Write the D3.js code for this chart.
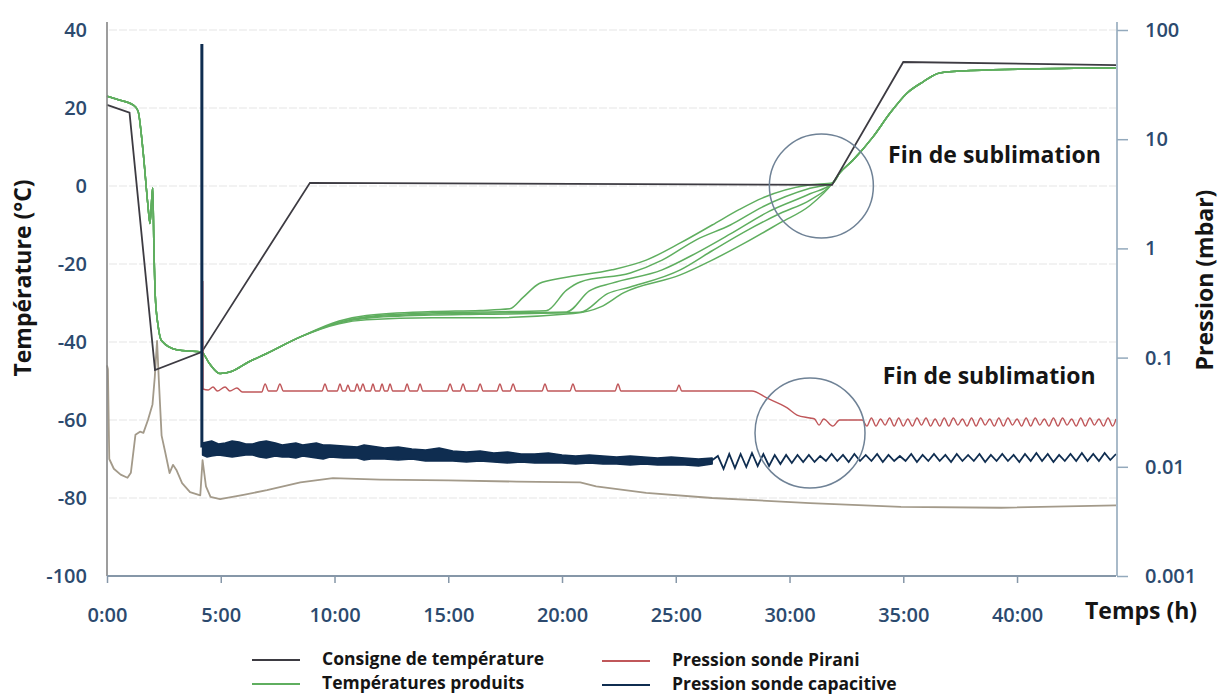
<!DOCTYPE html>
<html><head><meta charset="utf-8">
<script src="https://cdn.jsdelivr.net/npm/d3@7"></script>
<style>
body{margin:0;background:#fff}
svg text{font-family:"Open Sans",sans-serif}
</style>
</head><body>
<svg id="c" width="1224" height="695"></svg>
<script>
// ---------- DATA ----------
const tempTicks = [-100,-80,-60,-40,-20,0,20,40];
const pressTicks = [0.001,0.01,0.1,1,10,100];
const pressTickLabels = ["0.001","0.01","0.1","1","10","100"];
const timeTicks = [0,5,10,15,20,25,30,35,40];

// Consigne de température (°C)
const consigneHeures = [0,0.99,2.11,4.16,8.92,31.87,35.0,44.35];
const consigneTemp   = [20.8,18.8,-47.2,-42.6,0.8,0.3,31.8,31.0];

// Températures produits: shared start, per-probe middle, shared end
const produitsDebutHeures = [0,0.5,1.14,1.36,1.58,1.80,1.89,1.97,2.01,2.06,2.12,2.25,2.4,3.06,4.16,4.5,4.97,5.5,6.2,7.0,8.5];
const produitsDebutTemp   = [23.0,22.1,20.8,19.3,9.2,-5,-9.6,-3,-0.5,-15,-28,-36,-39.7,-42.0,-42.6,-45.5,-48.1,-47.5,-45.2,-43.0,-38.7];
const produit1Heures = [10.2,11.4,14.3,16.4,17.7,18.3,19.0,20.0,22.2,23.7,25.2,26.6,27.8,28.8,30.9];
const produit1Temp   = [-34.6,-33.2,-32.2,-31.9,-31.5,-28.5,-25.0,-23.6,-21.5,-19.0,-14.6,-10.0,-6.0,-3.1,0.3];
const produit2Heures = [10.2,11.4,14.3,16.4,19.3,20.2,20.8,23.0,24.4,25.9,27.4,28.8,30.9];
const produit2Temp   = [-34.9,-33.5,-32.5,-32.3,-32.0,-26.7,-24.6,-22.3,-19.0,-13.8,-10.0,-5.4,-0.6];
const produit3Heures = [10.2,11.4,14.3,16.4,20.2,21.2,22.2,24.4,25.9,27.4,29.1,30.9];
const produit3Temp   = [-35.0,-33.7,-32.8,-32.6,-32.3,-26.9,-24.9,-21.5,-17.2,-12.3,-6.5,-2.0];
const produit4Heures = [10.2,11.4,14.3,16.4,20.8,22.0,23.0,25.2,26.6,28.1,29.6,30.9];
const produit4Temp   = [-35.1,-33.9,-33.1,-32.9,-32.4,-27.6,-25.9,-21.5,-16.6,-11.5,-7.0,-3.6];
const produit5Heures = [10.2,11.4,14.3,16.4,20.5,21.7,22.7,25.2,26.6,28.1,29.6,30.9];
const produit5Temp   = [-35.3,-34.3,-33.8,-33.8,-32.7,-31.0,-27.4,-22.8,-19.0,-14.4,-9.4,-5.0];
const produitsFinHeures = [31.9,32.2,32.8,33.67,34.42,35.16,35.87,36.6,38.0,44.35];
const produitsFinTemp   = [0.8,3.3,6.7,12.6,18.7,23.8,26.7,29.0,29.6,30.3];

// Température condenseur (unlabelled taupe curve)
const condHeures = [0,0.04,0.10,0.30,0.60,0.90,1.05,1.25,1.45,1.60,1.80,2.00,2.10,2.20,2.28,2.40,2.55,2.75,2.90,3.05,3.30,3.65,4.10,4.20,4.35,4.55,4.97,6.0,7.03,8.5,9.93,12.0,15.0,18.0,20.8,21.5,23.7,26.6,30.9,34.9,39.3,44.35];
const condTemp   = [-46,-47,-70,-72.5,-74.0,-74.8,-73.5,-63.8,-63.0,-63.3,-60.0,-56.0,-49.0,-39.7,-50.0,-64.0,-68.0,-73.6,-71.5,-72.8,-76.2,-78.5,-79.3,-70.3,-77.0,-79.7,-80.3,-79.2,-78.0,-76.0,-74.9,-75.3,-75.5,-75.8,-76.0,-77.0,-78.7,-80.0,-81.3,-82.3,-82.5,-81.9];

// Pression sonde Pirani (mbar)
const piraniHeures = [4.21,4.22,4.45,4.66,4.85,5.19,5.40,5.71,5.95,6.80,6.95,7.10,7.45,7.60,7.75,9.45,9.58,9.71,10.12,10.24,10.36,10.48,10.59,10.70,10.88,10.99,11.12,11.25,11.37,11.58,11.69,11.80,11.98,12.09,12.20,12.33,12.44,12.56,13.07,13.19,13.31,13.64,13.76,13.88,14.95,15.08,15.21,15.52,15.65,15.78,16.27,16.40,16.53,17.14,17.27,17.40,17.72,17.85,17.98,19.12,19.25,19.38,20.35,20.48,20.61,22.33,22.46,22.59,25.02,25.14,25.26,28.35,29.0,29.9,30.33,30.9,31.1,31.3,31.5,31.9,32.2,33.2,
  33.4,33.6,33.8,34.0,34.2,34.4,34.6,34.8,35.0,35.2,35.4,35.6,35.8,36.0,36.2,36.4,36.6,36.8,37.0,37.2,37.4,37.6,37.8,38.0,38.2,38.4,38.6,38.8,39.0,39.2,39.4,39.6,39.8,40.0,40.2,40.4,40.6,40.8,41.0,41.2,41.4,41.6,41.8,42.0,42.2,42.4,42.6,42.8,43.0,43.2,43.4,43.6,43.8,44.0,44.2,44.35];
const piraniMbar = [0.503,0.0516,0.0505,0.0538,0.0494,0.0538,0.0494,0.0527,0.0484,0.0484,0.0573,0.0494,0.0494,0.0573,0.0494,0.0494,0.0573,0.0494,0.0494,0.0573,0.0494,0.0494,0.0561,0.0494,0.0494,0.0573,0.0494,0.0573,0.0494,0.0494,0.0573,0.0494,0.0494,0.0573,0.0494,0.0494,0.0573,0.0494,0.0494,0.0573,0.0494,0.0494,0.0573,0.0494,0.0494,0.0573,0.0494,0.0494,0.0573,0.0494,0.0494,0.0573,0.0494,0.0494,0.0573,0.0494,0.0494,0.0573,0.0494,0.0494,0.0573,0.0494,0.0494,0.0573,0.0494,0.0494,0.0573,0.0494,0.0494,0.0561,0.0494,0.0494,0.0427,0.0346,0.0298,0.0280,0.0274,0.0241,0.0274,0.0236,0.0268,0.0268,
  0.0236,0.0280,0.0236,0.0274,0.0241,0.0280,0.0236,0.0280,0.0236,0.0274,0.0236,0.0280,0.0241,0.0280,0.0236,0.0274,0.0236,0.0280,0.0236,0.0280,0.0241,0.0274,0.0236,0.0280,0.0236,0.0280,0.0241,0.0274,0.0236,0.0280,0.0236,0.0280,0.0241,0.0274,0.0236,0.0280,0.0236,0.0280,0.0241,0.0274,0.0236,0.0280,0.0236,0.0280,0.0241,0.0274,0.0236,0.0280,0.0236,0.0280,0.0241,0.0274,0.0236,0.0280,0.0236,0.0274];

// Pression sonde capacitive (mbar): initial spike, noisy band (upper/lower envelope), then oscillation
const capPicHeures = [4.17,4.17];
const capPicMbar = [74.4,0.0150];
const capBandeHeures = [4.2,4.4,4.6,4.9,5.2,5.5,5.8,6.1,6.4,6.7,7.0,7.4,7.7,8.0,8.3,8.6,9.2,9.5,9.8,10.4,11.0,11.3,11.6,12.2,12.8,13.4,14.0,14.6,15.2,15.8,16.4,17.0,17.6,18.2,18.8,19.4,20.0,20.6,21.2,21.8,22.4,23.0,23.6,24.2,24.8,25.4,26.0,26.6];
const capBandeHaut = [0.01651,0.01687,0.01722,0.01617,0.01651,0.01722,0.01687,0.01617,0.01617,0.01687,0.01722,0.01651,0.01584,0.01617,0.01651,0.01584,0.01651,0.01584,0.01584,0.01551,0.01518,0.01584,0.01551,0.01487,0.01518,0.01456,0.01425,0.01487,0.01396,0.01367,0.01396,0.01338,0.01367,0.01310,0.01310,0.01338,0.01283,0.01256,0.01283,0.01256,0.01230,0.01256,0.01230,0.01204,0.01230,0.01204,0.01179,0.01204];
const capBandeBas  = [0.01283,0.01230,0.01256,0.01283,0.01256,0.01230,0.01256,0.01283,0.01283,0.01230,0.01204,0.01256,0.01230,0.01230,0.01204,0.01256,0.01204,0.01179,0.01230,0.01204,0.01204,0.01154,0.01179,0.01179,0.01154,0.01179,0.01130,0.01130,0.01130,0.01107,0.01130,0.01107,0.01083,0.01107,0.01083,0.01083,0.01083,0.01061,0.01083,0.01061,0.01061,0.01038,0.01061,0.01038,0.01038,0.01038,0.01017,0.01061];
const capOscHeures = [26.60,26.85,27.10,27.35,27.60,27.85,28.10,28.35,28.60,28.85,29.10,29.35,29.60,29.85,30.10,30.35,30.60,30.85,31.10,31.35,31.60,31.85,32.10,32.35,32.60,32.85,33.10,33.35,33.60,33.85,34.10,34.35,34.60,34.85,35.10,35.35,35.60,35.85,36.10,36.35,36.60,36.85,37.10,37.35,37.60,37.85,38.10,38.35,38.60,38.85,39.10,39.35,39.60,39.85,40.10,40.35,40.60,40.85,41.10,41.35,41.60,41.85,42.10,42.35,42.60,42.85,43.10,43.35,43.60,43.85,44.10,44.35];
const capOscMbar = [0.01150,0.01256,0.00955,0.01310,0.00975,0.01310,0.00996,0.01338,0.01017,0.01310,0.01017,0.01283,0.01061,0.01283,0.01083,0.01283,0.01107,0.01283,0.01107,0.01256,0.01130,0.01310,0.01130,0.01283,0.01107,0.01310,0.01130,0.01283,0.01130,0.01310,0.01107,0.01283,0.01130,0.01256,0.01130,0.01310,0.01107,0.01283,0.01130,0.01310,0.01130,0.01283,0.01107,0.01310,0.01130,0.01283,0.01130,0.01310,0.01107,0.01283,0.01130,0.01310,0.01130,0.01283,0.01107,0.01310,0.01130,0.01338,0.01130,0.01310,0.01107,0.01283,0.01130,0.01310,0.01130,0.01338,0.01130,0.01310,0.01130,0.01338,0.01154,0.01310];

const legendLabels = ["Consigne de température","Températures produits","Pression sonde Pirani","Pression sonde capacitive"];
const annotationText = "Fin de sublimation";

// ---------- STYLE ----------
const C = {consigne:"#3d3b42", produit:"#5fae5f", cond:"#a39a8a", pirani:"#c0575a", cap:"#0f2d50",
           tick:"#2c4a6e", grid:"#e6e6e6", title:"#151515"};

// ---------- CHART ----------
const svg = d3.select("#c");
const x  = d3.scaleLinear().domain([0,44.35]).range([107,1116]);
const yT = d3.scaleLinear().domain([-100,40]).range([576,30]);
const yP = d3.scaleLog().domain([0.001,100]).range([576,30]);

const zip = (a,b)=>a.map((v,i)=>[v,b[i]]);

// gridlines
svg.append("g").selectAll("line").data(tempTicks.filter(t=>t>-100)).join("line")
  .attr("x1",x(0)+2).attr("x2",x(44.35)).attr("y1",d=>yT(d)).attr("y2",d=>yT(d))
  .attr("stroke",C.grid).attr("stroke-width",1.2).attr("stroke-dasharray","8,2");

const lineT = d3.line().x(d=>x(d[0])).y(d=>yT(d[1]));
const lineTs = d3.line().x(d=>x(d[0])).y(d=>yT(d[1])).curve(d3.curveMonotoneX);
const lineP = d3.line().x(d=>x(d[0])).y(d=>yP(d[1]));
const linePs = d3.line().x(d=>x(d[0])).y(d=>yP(d[1])).curve(d3.curveMonotoneX);

// condenser
svg.append("path").datum(zip(condHeures,condTemp)).attr("d",lineT)
  .attr("fill","none").attr("stroke",C.cond).attr("stroke-width",1.8).attr("stroke-linejoin","round");

// product temperatures
const debut = zip(produitsDebutHeures,produitsDebutTemp);
const fin = zip(produitsFinHeures,produitsFinTemp);
const sondes = [[produit1Heures,produit1Temp],[produit2Heures,produit2Temp],[produit3Heures,produit3Temp],[produit4Heures,produit4Temp],[produit5Heures,produit5Temp]];
sondes.forEach(([h,t])=>{
  svg.append("path").datum(debut.concat(zip(h,t),fin)).attr("d",lineTs)
    .attr("fill","none").attr("stroke",C.produit).attr("stroke-width",1.5);
});

// consigne
svg.append("path").datum(zip(consigneHeures,consigneTemp)).attr("d",lineT)
  .attr("fill","none").attr("stroke",C.consigne).attr("stroke-width",1.8);

// pirani
svg.append("path").datum(zip(piraniHeures,piraniMbar)).attr("d",linePs)
  .attr("fill","none").attr("stroke",C.pirani).attr("stroke-width",1.4);

// capacitive
svg.append("path").datum(zip(capPicHeures,capPicMbar)).attr("d",lineP)
  .attr("fill","none").attr("stroke",C.cap).attr("stroke-width",3);
const band = capBandeHeures.map((h,i)=>({h,hi:capBandeHaut[i],lo:capBandeBas[i]}));
svg.append("path").datum(band)
  .attr("d",d3.area().x(d=>x(d.h)).y0(d=>yP(d.lo)).y1(d=>yP(d.hi)))
  .attr("fill",C.cap).attr("stroke",C.cap).attr("stroke-width",1.5).attr("stroke-linejoin","round");
svg.append("path").datum(zip(capOscHeures,capOscMbar)).attr("d",lineP)
  .attr("fill","none").attr("stroke",C.cap).attr("stroke-width",1.8);

// axes
const gL = svg.append("g").attr("transform",`translate(${x(0)},0)`)
  .call(d3.axisLeft(yT).tickValues(tempTicks).tickSize(0).tickPadding(20).tickFormat(d=>String(d)));
gL.select(".domain").attr("stroke","#858585").attr("stroke-width",1.6).attr("d","M0,22V576");
gL.selectAll("text").attr("font-size",20).attr("font-weight",600).attr("fill",C.tick);

const gB = svg.append("g").attr("transform",`translate(0,${yT(-100)})`)
  .call(d3.axisBottom(x).tickValues(timeTicks).tickSize(7).tickPadding(25).tickFormat(d=>d+":00"));
gB.select(".domain").attr("stroke","#8697a8").attr("stroke-width",2).attr("d",`M${x(0)},0H${x(44.35)}`);
gB.selectAll(".tick line").attr("stroke","#8697a8").attr("stroke-width",1.5);
gB.selectAll("text").attr("font-size",20).attr("font-weight",600).attr("fill",C.tick);

const gR = svg.append("g").attr("transform",`translate(${x(44.35)+1},0)`)
  .call(d3.axisRight(yP).tickValues(pressTicks).tickSize(11).tickPadding(17).tickFormat((d,i)=>pressTickLabels[i]));
gR.select(".domain").attr("stroke","#93a9bc").attr("stroke-width",1.6).attr("d","M0,22V576");
gR.selectAll(".tick line").attr("stroke","#93a9bc").attr("stroke-width",1.5);
gR.selectAll("text").attr("font-size",20).attr("font-weight",600).attr("fill",C.tick);

// axis titles
svg.append("text").attr("transform","translate(31,278) rotate(-90)").attr("text-anchor","middle")
  .attr("font-size",23).attr("font-weight",700).attr("fill",C.title).text("Température (°C)");
svg.append("text").attr("transform","translate(1213,280) rotate(-90)").attr("text-anchor","middle")
  .attr("font-size",23).attr("font-weight",700).attr("fill",C.title).text("Pression (mbar)");
svg.append("text").attr("x",1085).attr("y",619)
  .attr("font-size",23).attr("font-weight",700).attr("fill",C.title).text("Temps (h)");

// annotations
svg.append("circle").attr("cx",x(31.4)).attr("cy",yT(0)).attr("r",52)
  .attr("fill","none").attr("stroke","#6f8296").attr("stroke-width",1.5);
svg.append("circle").attr("cx",x(30.9)).attr("cy",yP(0.0204)).attr("r",55)
  .attr("fill","none").attr("stroke","#6f8296").attr("stroke-width",1.5);
svg.append("text").attr("x",x(34.33)).attr("y",yT(6)).attr("font-size",23).attr("font-weight",700)
  .attr("fill",C.title).text(annotationText);
svg.append("text").attr("x",x(34.1)).attr("y",yP(0.057)).attr("font-size",23).attr("font-weight",700)
  .attr("fill",C.title).text(annotationText);

// legend
const legColors = [C.consigne,C.produit,C.pirani,C.cap];
const legPos = [[252,659],[252,683],[602,660],[602,684]];
legendLabels.forEach((lab,i)=>{
  const [lx,ly]=legPos[i];
  svg.append("line").attr("x1",lx).attr("x2",lx+48).attr("y1",ly+1).attr("y2",ly+1)
    .attr("stroke",legColors[i]).attr("stroke-width",1.8);
  svg.append("text").attr("x",lx+70).attr("y",ly).attr("dy","0.33em")
    .attr("font-size",17.5).attr("font-weight",700).attr("fill",C.title).text(lab);
});
</script>
</body></html>
